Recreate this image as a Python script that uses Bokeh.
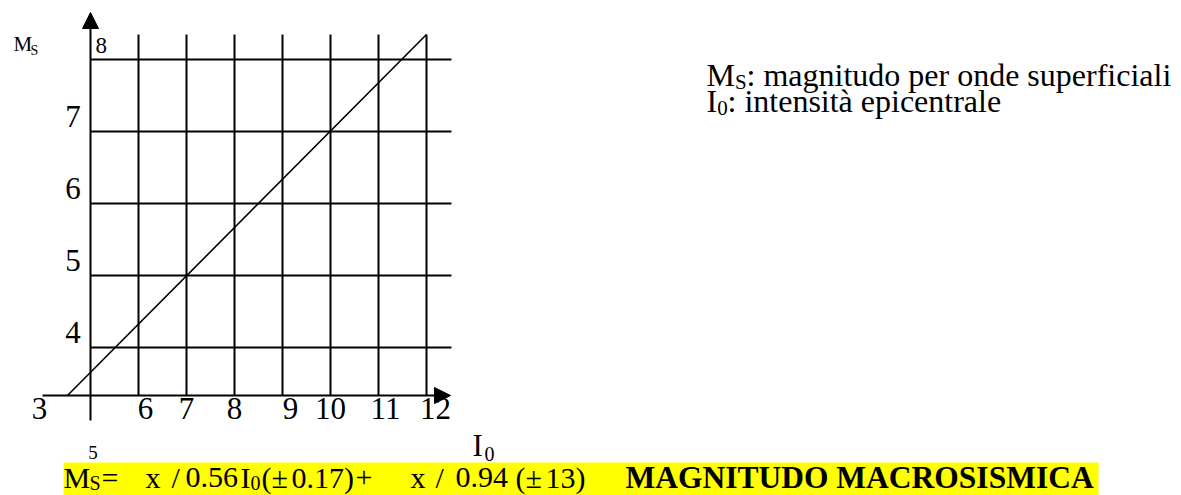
from bokeh.plotting import figure
from bokeh.models import Range1d, ColumnDataSource, Arrow, NormalHead
from bokeh.embed import file_html
from bokeh.resources import INLINE
from bokeh.core.properties import value

# ---------------- data ----------------
i0_ticks = [6, 7, 8, 9, 10, 11, 12]
i0_tick_labels = ["6", "7", "8", "9", "10", "11", "12"]
ms_ticks = [4, 5, 6, 7, 8]
ms_tick_labels = ["4", "5", "6", "7", "8"]
i0_origin = 5          # I0 value of the vertical (Ms) axis
ms_origin = 3.333      # Ms value where the I0 axis runs
i0_grid_end = 12.52
ms_grid_end = 8.347
relation_i0 = [4.52, 12.0]
relation_ms = [3.333, 8.347]

# ---------------- layout (screen pixels of the 1181x495 page) ----------------
W, H = 1181, 495
def X(px):
    return i0_origin + (px - 90) / 48.0
def Y(py):
    return 8 - (py - 59) / 72.0
def PY(ms):
    return 59 + (8 - ms) * 72.0
def dX(px):
    return px / 48.0

FONT = value("Liberation Serif")
BASE_K = 0.32   # baseline correction (fraction of font size)

p = figure(width=W, height=H, output_backend="svg", toolbar_location=None,
           x_range=Range1d(X(0), X(W)), y_range=Range1d(Y(H), Y(0)),
           x_axis_location=None, y_axis_location=None, min_border=0,
           background_fill_color="white", border_fill_color="white",
           outline_line_color=None)
p.xgrid.visible = False
p.ygrid.visible = False

# yellow highlight behind formula
p.quad(left=[X(63)], right=[X(1098)], top=[Y(462)], bottom=[Y(520)],
       fill_color="#FFFF00", line_color=None)

# grid
p.segment(x0=i0_ticks, y0=[ms_origin] * len(i0_ticks), x1=i0_ticks,
          y1=[ms_grid_end] * len(i0_ticks), line_color="black", line_width=2)
p.segment(x0=[i0_origin] * len(ms_ticks), y0=ms_ticks,
          x1=[i0_grid_end] * len(ms_ticks), y1=ms_ticks,
          line_color="black", line_width=2)

# axes with arrows
p.add_layout(Arrow(x_start=i0_origin, y_start=Y(420), x_end=i0_origin, y_end=Y(12),
                   line_color="black", line_width=2,
                   end=NormalHead(size=16, fill_color="black", line_color="black", line_width=1)))
p.add_layout(Arrow(x_start=X(42), y_start=ms_origin, x_end=X(450), y_end=ms_origin,
                   line_color="black", line_width=2,
                   end=NormalHead(size=16, fill_color="black", line_color="black", line_width=1)))

# relation line
p.line(relation_i0, relation_ms, line_color="black", line_width=1.6)


def txt(xs, pys, texts, size, style="normal", align="left"):
    ys = [Y(py - BASE_K * size) for py in pys]
    src = ColumnDataSource(dict(x=xs, y=ys, t=texts))
    p.text(x="x", y="y", text="t", source=src, text_font=FONT,
           text_font_size=f"{size}px", text_font_style=style, text_align=align,
           text_baseline="alphabetic", text_color="black")

# x tick labels (with the small offsets of the original drawing)
x_nudge = [7, 0, 0, 8, 0, 7, 9]
base_x = PY(ms_origin) + 23
txt([v + dX(n) for v, n in zip(i0_ticks, x_nudge)], [base_x] * len(i0_ticks),
    i0_tick_labels, 31, align="center")
txt([X(39)], [base_x], ["3"], 31, align="center")
txt([i0_origin + dX(2.5)], [458], ["5"], 19, align="center")

# y tick labels
txt([X(72.5)] * 4, [PY(v) - 5 for v in ms_ticks[:4]], ms_tick_labels[:4], 31, align="center")
txt([X(95)], [PY(ms_ticks[4]) - 7], [ms_tick_labels[4]], 23)

# axis titles
txt([X(13)], [50], ["M"], 21)
txt([X(30)], [54], ["S"], 14)
txt([X(472)], [455], ["I"], 31)
txt([X(484)], [460], ["0"], 20)

# legend text
txt([X(706), X(706)], [85, 111], ["M", "I"], 32)
txt([X(734.5), X(716.7)], [88, 114], ["S", "0"], 21)
txt([X(746), X(727)], [85, 111],
    [": magnitudo per onde superficiali", ": intensità epicentrale"], 32)

# formula
main_x = [63, 101, 145, 171, 185, 240, 261, 271, 291, 355, 410, 435, 455, 515, 525, 545]
main_t = ["M", "=", "x", "/", "0.56", "I", "(", "±", "0.17)", "+", "x", "/", "0.94", "(", "±", "13)"]
txt([X(v) for v in main_x], [487] * len(main_x), main_t, 30)
txt([X(89), X(250)], [489, 489], ["S", "0"], 20)
txt([X(625)], [487], ["MAGNITUDO MACROSISMICA"], 31.5, style="bold")

open("out.html", "w").write(file_html(p, INLINE))
